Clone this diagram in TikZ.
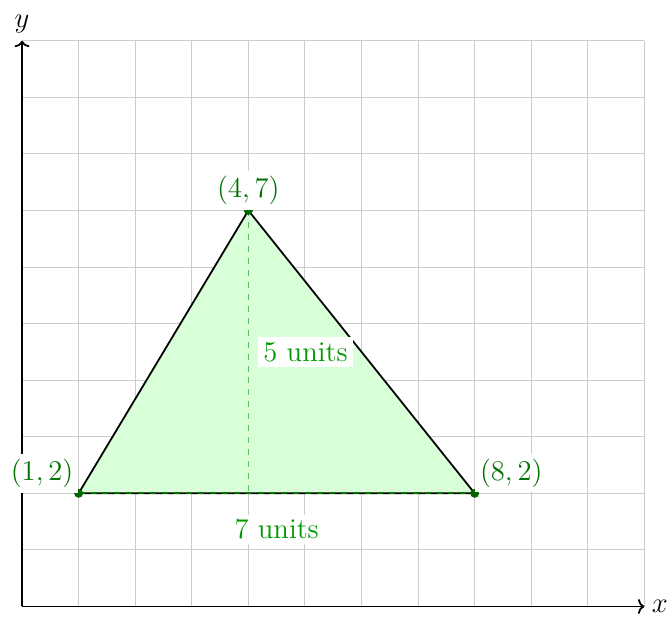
\documentclass[tikz,border=0pt]{standalone}
\usetikzlibrary{arrows.meta}
\definecolor{heightgreen}{RGB}{95,190,95}
\begin{document}
\begin{tikzpicture}[x=1cm,y=1cm,font=\Large,
  gridline/.style={gray!40,line width=0.5pt},
  axis/.style={line width=0.9pt,-{To[length=3.2pt,width=7.5pt]}},
  lbl/.style={fill=white,inner sep=2.5pt,text=green!45!black},
  meas/.style={fill=white,inner sep=2.5pt,text=green!60!black},
  vdot/.style={circle,fill=green!40!black,inner sep=0pt,minimum size=4.5pt}]
\useasboundingbox (-0.39,-0.18) rectangle (11.4,10.72);
\draw[gridline] (0,0) grid (11,10);
\draw[axis] (0,0) -- (11,0) node[right] {$x$};
\draw[axis] (0,0) -- (0,10) node[above] {$y$};
\coordinate (A) at (1,2);
\coordinate (B) at (8,2);
\coordinate (C) at (4,7);
\coordinate (F) at (4,2);
\fill[green!15] (A) -- (B) -- (C) -- cycle;
\draw[line width=0.9pt] (A) -- (B) -- (C) -- cycle;
\draw[dashed,green!45!black,line width=0.9pt] (A) -- (B);
\draw[dashed,heightgreen,line width=0.7pt] (C) -- (F);
\node[vdot] at (A) {};
\node[vdot] at (B) {};
\node[vdot] at (C) {};
\node[lbl,above left=0pt] (la) at (A) {$(1,2)$};
\node[lbl,anchor=west] (lb) at ([yshift=0.36cm]B) {$(8,2)$};
\node[lbl,above=0pt] (lc) at (C) {$(4,7)$};
\node[meas,anchor=west] (h) at (4.17,4.5) {5 units};
\node[meas] (w) at (4.5,1.36) {7 units};
\end{tikzpicture}
\end{document}
